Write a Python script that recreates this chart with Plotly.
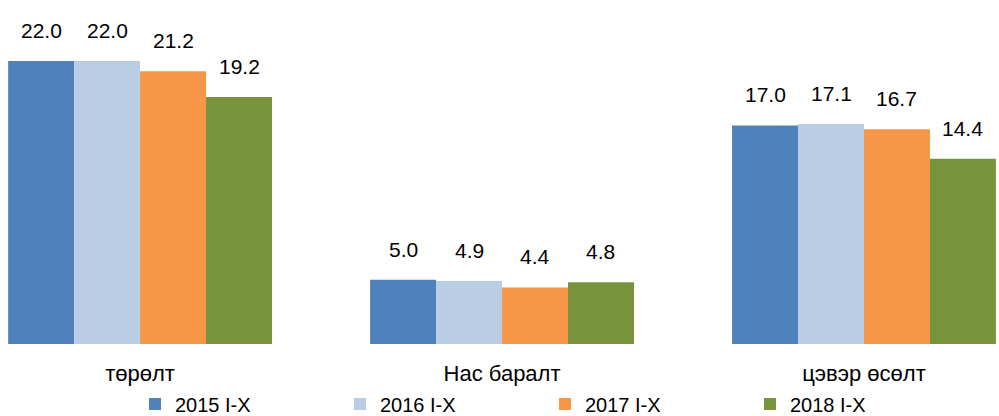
import plotly.graph_objects as go

categories = ["төрөлт", "Нас баралт", "цэвэр өсөлт"]
series_names = ["2015 I-X", "2016 I-X", "2017 I-X", "2018 I-X"]
v2015 = [22.0, 5.0, 17.0]
v2016 = [22.0, 4.9, 17.1]
v2017 = [21.2, 4.4, 16.7]
v2018 = [19.2, 4.8, 14.4]
colors = ["#4F81BD", "#B9CDE5", "#F79646", "#77933C"]

series_values = [v2015, v2016, v2017, v2018]
FONT = "Liberation Sans, Arial, sans-serif"
BARGAP = 0.271

fig = go.Figure()
for name, vals, col in zip(series_names, series_values, colors):
    fig.add_trace(go.Bar(
        x=categories, y=vals, name=name, marker_color=col,
        marker_line_width=0,
    ))

# value labels placed above each bar of the group
n = len(series_values)
bw = (1 - BARGAP) / n
annotations = []
for si, vals in enumerate(series_values):
    off = -(1 - BARGAP) / 2 + bw * (si + 0.5)
    for ci, v in enumerate(vals):
        annotations.append(dict(
            x=ci + off, y=v, xref="x", yref="y", text=f"{v:.1f}",
            showarrow=False, yanchor="bottom", yshift=17,
            font=dict(size=21, family=FONT, color="#000000"),
        ))

fig.update_layout(
    width=999, height=416,
    margin=dict(l=0, r=0, t=0, b=72, autoexpand=False),
    paper_bgcolor="white", plot_bgcolor="white",
    barmode="group", bargap=BARGAP, bargroupgap=0,
    font=dict(family=FONT, size=21, color="#000000"),
    showlegend=True,
    legend=dict(orientation="h", x=135 / 999, xanchor="left", y=(344 - 404) / 344, yanchor="middle",
                font=dict(size=20, family=FONT), entrywidth=160, entrywidthmode="pixels",
                traceorder="normal", bgcolor="rgba(0,0,0,0)", tracegroupgap=0),
    xaxis=dict(type="category", range=[-0.387, 2.373], showgrid=False, showline=False,
               zeroline=False, ticks="", ticklabelstandoff=14,
               tickfont=dict(size=22, family=FONT)),
    yaxis=dict(range=[0, 26.75], visible=False, showgrid=False, zeroline=False),
    annotations=annotations,
)

fig.write_html("out.html", config={"displayModeBar": False},
               post_script="document.body.style.margin='0';")
